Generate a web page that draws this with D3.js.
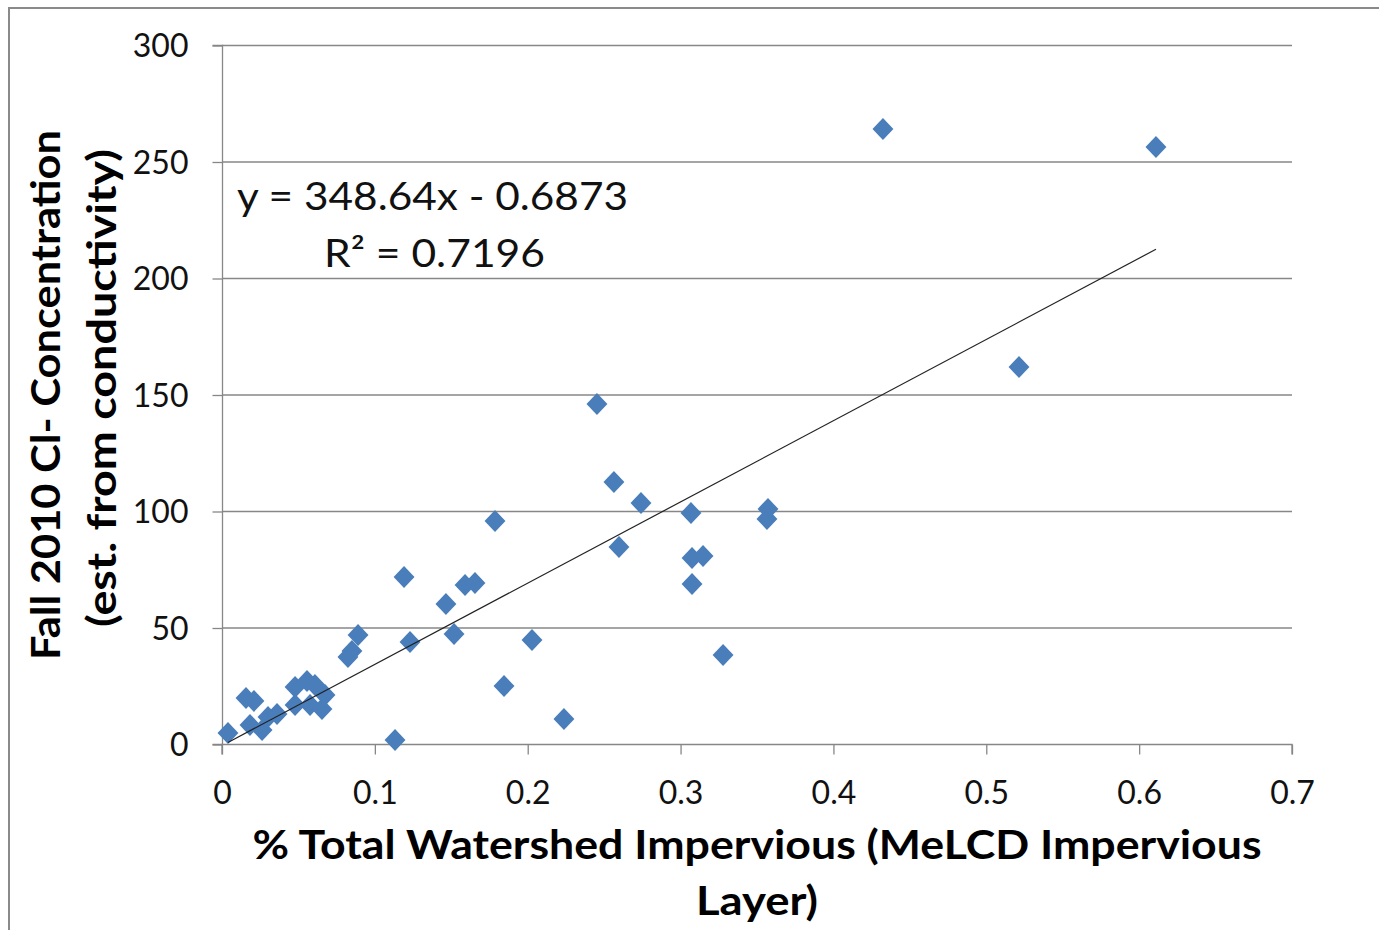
<!DOCTYPE html>
<html><head><meta charset="utf-8">
<script src="https://cdn.jsdelivr.net/npm/d3@7"></script>
<style>
html,body{margin:0;padding:0;background:#fff;}
svg{display:block;}
text{font-family:Lato,"Open Sans",sans-serif;}
</style></head>
<body><svg id="c" width="1379" height="930"></svg>
<script>
// Data
const imperv = [0.0039,0.0157,0.0209,0.0183,0.0262,0.0301,0.0360,0.0478,0.0556,0.0608,0.0478,0.0576,0.0654,0.0674,
  0.0824,0.0850,0.0890,0.1132,0.1191,0.1230,0.1465,0.1518,0.1590,0.1655,0.1786,0.1845,0.2028,0.2237,
  0.2453,0.2564,0.2741,0.2597,0.3068,0.3075,0.3147,0.3075,0.3278,0.3572,0.3565,0.4324,0.5214,0.6110];
const chloride = [4.7,19.7,18.5,8.2,6.0,11.6,12.9,24.5,27.0,25.3,16.7,16.7,15.0,21.0,
  37.3,39.9,46.8,1.7,71.7,43.8,60.1,47.2,68.2,69.1,95.7,24.9,44.6,10.7,
  145.9,112.4,103.4,84.5,99.1,79.8,80.7,68.7,38.2,100.9,96.6,264.0,161.8,256.2];
const xTicks = [0,0.1,0.2,0.3,0.4,0.5,0.6,0.7];
const yTicks = [0,50,100,150,200,250,300];
const slope = 348.64, intercept = -0.6873;
const eqLabel = "y = 348.64x - 0.6873";
const r2Label = "R² = 0.7196";
const xTitle = ["% Total Watershed Impervious (MeLCD Impervious", "Layer)"];
const yTitle = ["Fall 2010 Cl- Concentration", "(est. from conductivity)"];

const svg = d3.select("#c");
const L = 222, R = 1292, T = 45, B = 744;
const x = d3.scaleLinear().domain([0,0.7]).range([L,R]);
const y = d3.scaleLinear().domain([0,300]).range([B,T]);
const grid = "#878787";

// outer frame
svg.append("path").attr("d","M9,930 V8 H1379").attr("fill","none").attr("stroke","#8a8a8a").attr("stroke-width",2);

// gridlines
svg.append("g").selectAll("line").data(yTicks.filter(d=>d>0)).join("line")
  .attr("x1",L).attr("x2",R).attr("y1",d=>y(d)+0.5).attr("y2",d=>y(d)+0.5)
  .attr("stroke",grid).attr("stroke-width",1.3);

// y axis
const ya = svg.append("g").attr("transform",`translate(${L+0.5},0)`)
  .call(d3.axisLeft(y).tickValues(yTicks).tickSize(10).tickPadding(24).tickFormat(d3.format("d")));
ya.select(".domain").attr("stroke",grid).attr("stroke-width",1.3).attr("d",`M-10,${T+0.5}H0V${B+0.5}H-10`);
ya.selectAll(".tick line").attr("stroke",grid).attr("stroke-width",1.3).attr("transform","translate(0,0.5)");
ya.selectAll(".tick text").attr("font-size",32).attr("fill","#111").attr("font-family","Lato").attr("dy","0.36em");

// x axis
const xa = svg.append("g").attr("transform",`translate(0,${B+0.5})`)
  .call(d3.axisBottom(x).tickValues(xTicks).tickSize(10).tickPadding(30).tickFormat(d=>d===0?"0":d3.format(".1f")(d)));
xa.select(".domain").attr("stroke",grid).attr("stroke-width",1.3).attr("d",`M${L},10V0H${R}V10`);
xa.selectAll(".tick line").attr("stroke",grid).attr("stroke-width",1.3);
xa.selectAll(".tick text").attr("font-size",32).attr("fill","#111").attr("font-family","Lato").attr("dy","0.6em");

// points
const pts = imperv.map((v,i)=>({x:v,y:chloride[i]}));
const s = 11;
svg.append("g").selectAll("path").data(pts).join("path")
  .attr("d",d=>`M${x(d.x)},${y(d.y)-s}L${x(d.x)+s*0.95},${y(d.y)}L${x(d.x)},${y(d.y)+s}L${x(d.x)-s*0.95},${y(d.y)}Z`)
  .attr("fill","#4a7ebb");

// trendline
const xmin = d3.min(imperv), xmax = d3.max(imperv);
svg.append("line").attr("x1",x(xmin)).attr("y1",y(slope*xmin+intercept))
  .attr("x2",x(xmax)).attr("y2",y(slope*xmax+intercept))
  .attr("stroke","#222").attr("stroke-width",1.2);

// equation
svg.append("text").attr("x",237).attr("y",210).attr("font-size",39).attr("fill","#111")
  .attr("textLength",391).attr("lengthAdjust","spacingAndGlyphs").text(eqLabel);
svg.append("text").attr("x",324).attr("y",267).attr("font-size",39).attr("fill","#111")
  .attr("textLength",221).attr("lengthAdjust","spacingAndGlyphs").text(r2Label);

// x title
svg.append("text").attr("x",757).attr("y",859).attr("text-anchor","middle").attr("font-size",41).attr("font-weight","bold")
  .attr("fill","#000").attr("textLength",1009).attr("lengthAdjust","spacingAndGlyphs").text(xTitle[0]);
svg.append("text").attr("x",757).attr("y",915).attr("text-anchor","middle").attr("font-size",41).attr("font-weight","bold")
  .attr("fill","#000").attr("textLength",122).attr("lengthAdjust","spacingAndGlyphs").text(xTitle[1]);

// y title
svg.append("text").attr("transform","translate(60,395) rotate(-90)").attr("text-anchor","middle")
  .attr("font-size",40).attr("font-weight","bold").attr("fill","#000")
  .attr("textLength",530).attr("lengthAdjust","spacingAndGlyphs").text(yTitle[0]);
svg.append("text").attr("transform","translate(116,388) rotate(-90)").attr("text-anchor","middle")
  .attr("font-size",40).attr("font-weight","bold").attr("fill","#000")
  .attr("textLength",478).attr("lengthAdjust","spacingAndGlyphs").text(yTitle[1]);
</script></body></html>
